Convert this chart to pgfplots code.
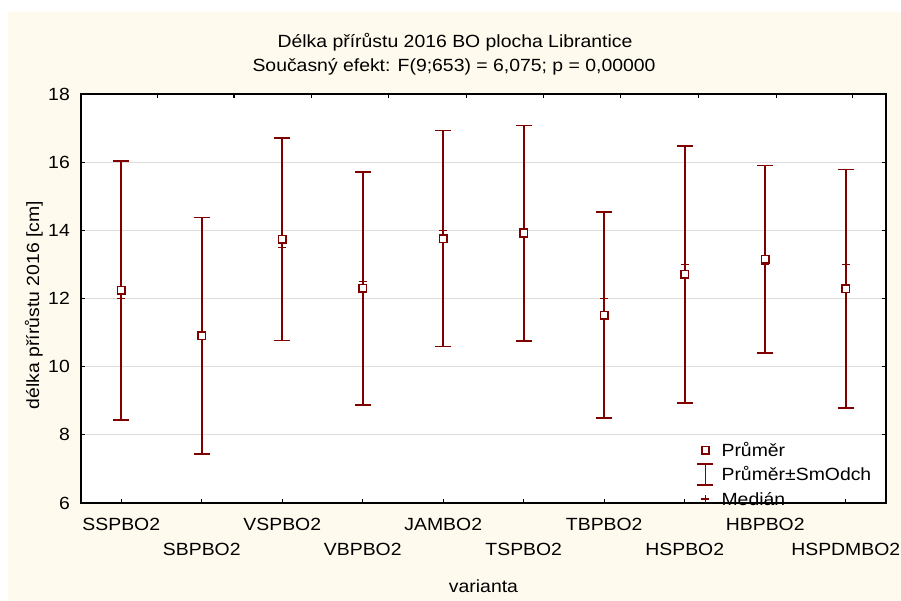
\documentclass[border=0pt]{standalone}
\usepackage{fontspec}
\setmainfont{Liberation Sans}[FakeStretch=1.1]
\usepackage{pgfplots}
\usepackage{pgfplotstable}
\pgfplotsset{compat=1.18}
\definecolor{dr}{RGB}{128,0,0}
\definecolor{cream}{RGB}{255,250,238}
\definecolor{gridc}{RGB}{220,220,220}
\newcommand{\fs}{\fontsize{17.7}{21}\selectfont}
\pgfplotstableread{
x mean sd median
0 12.24 3.80 12.0
1 10.91 3.47 11.0
2 13.74 2.97 13.5
3 12.30 3.42 12.5
4 13.76 3.17 14.0
5 13.92 3.16 14.0
6 11.51 3.02 12.0
7 12.71 3.77 13.0
8 13.15 2.75 13.0
9 12.29 3.50 13.0
}\data
\begin{document}
\begin{tikzpicture}
\useasboundingbox (0,0) rectangle (901bp,601bp);
\fill[white] (0,0) rectangle (901bp,601bp);
\fill[cream] (8bp,0) rectangle (901bp,589bp);
\node[anchor=base, font=\fs, inner sep=0pt] at (455bp,553.7bp) {Délka přírůstu 2016 BO plocha Librantice};
\node[anchor=base, font=\fs, inner sep=0pt] at (454bp,529.3bp) {Současný efekt: F(9;653) = 6,075; p = 0,00000};
\begin{axis}[
 at={(81bp,98bp)}, anchor=south west, scale only axis,
 width=805bp, height=409bp,
 xmin=-0.5, xmax=9.5, ymin=6, ymax=18,
 axis background/.style={fill=white},
 xtick={0,...,9},
 xticklabels={SSPBO2,\raisebox{-24.3bp}{SBPBO2},VSPBO2,\raisebox{-24.3bp}{VBPBO2},JAMBO2,\raisebox{-24.3bp}{TSPBO2},TBPBO2,\raisebox{-24.3bp}{HSPBO2},HBPBO2,\raisebox{-24.3bp}{HSPDMBO2}},
 xtick pos=left, ytick={6,8,...,18}, ytick pos=both,
 tick align=inside, major tick length=4bp,
 tick style={black, line width=1.2bp},
 axis line style={black, line width=1.5bp},
 ymajorgrids, grid style={gridc, line width=1.2bp},
 /pgf/number format/assume math mode=true,
 xticklabel style={anchor=base, inner sep=0pt, yshift=-27.7bp, font=\fs},
 yticklabel style={anchor=east, inner sep=0pt, xshift=-11bp, font=\fs},
 ylabel={délka přírůstu 2016 [cm]},
 ylabel style={at={(axis description cs:-0.0585,0.484)}, anchor=center, font=\fs},
 xlabel={varianta},
 xlabel style={at={(axis description cs:0.5,0)}, anchor=base, inner sep=0pt, yshift=-89.7bp, font=\fs},
 legend style={draw=none, fill=none, font=\fs, at={(axis description cs:0.7652,0.1498)}, anchor=north west, inner sep=0pt, row sep=8bp, column sep=8bp, nodes={inner xsep=0pt, inner ysep=2bp, text height=12.5bp, text depth=0bp}},
 legend cell align=left,
]
\addplot[only marks, mark=none, forget plot,
  error bars/.cd, y dir=both, y explicit, error mark=|,
  error bar style={dr, line width=1.6bp},
  error mark options={dr, line width=1.6bp, mark size=8bp}]
  table[x=x, y=mean, y error=sd]{\data};
\addplot[only marks, mark=+, mark size=4bp, mark options={dr, line width=1.5bp}, forget plot]
  table[x=x, y=median]{\data};
\addplot[only marks, mark=square*, mark size=3.8bp, mark options={dr, fill=white, line width=1.6bp}, forget plot]
  table[x=x, y=mean]{\data};
\addlegendimage{legend image code/.code={\path (0bp,0) (16bp,0); \draw[dr, line width=1.6bp, fill=white] plot[mark=square*, mark size=3.6bp] coordinates {(8bp,0)};}}
\addlegendentry{Průměr}
\addlegendimage{legend image code/.code={\path (0bp,0) (16bp,0); \draw[overlay, dr, line width=1.6bp] (8bp,-10.5bp) -- (8bp,10.5bp) (0bp,-10.5bp) -- (16bp,-10.5bp) (0bp,10.5bp) -- (16bp,10.5bp);}}
\addlegendentry{Průměr±SmOdch}
\addlegendimage{legend image code/.code={\path (0bp,0) (16bp,0); \draw[dr, line width=1.5bp] plot[mark=+, mark size=4bp] coordinates {(8bp,0)};}}
\addlegendentry{Medián}
\end{axis}
\begin{axis}[
 at={(81bp,98bp)}, anchor=south west, scale only axis,
 width=805bp, height=409bp,
 xmin=81, xmax=886, ymin=0, ymax=1,
 axis line style={draw=none},
 xtick={157.3,234,311.8,388.5,466.4,543.7,620.4,698.2,776.1,852.8},
 xticklabels={}, xtick pos=right, ytick=\empty,
 tick align=inside, major tick length=4bp,
 tick style={black, line width=1.2bp},
]
\end{axis}
\end{tikzpicture}
\end{document}
